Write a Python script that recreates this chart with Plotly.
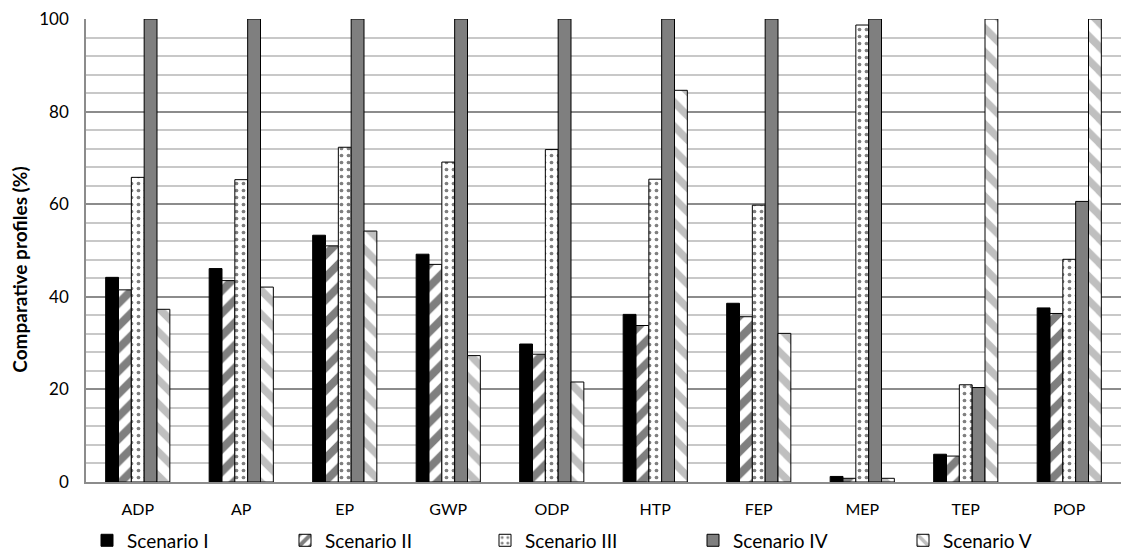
import plotly.graph_objects as go

categories = ["ADP", "AP", "EP", "GWP", "ODP", "HTP", "FEP", "MEP", "TEP", "POP"]
scenario_1 = [44.2, 46.1, 53.3, 49.2, 29.8, 36.2, 38.6, 1.2, 6.0, 37.6]
scenario_2 = [41.5, 43.5, 51.0, 47.0, 27.6, 33.8, 35.7, 0.8, 5.6, 36.4]
scenario_3 = [65.8, 65.3, 72.3, 69.1, 71.8, 65.4, 59.8, 98.7, 21.0, 48.1]
scenario_4 = [100, 100, 100, 100, 100, 100, 100, 100, 20.4, 60.6]
scenario_5 = [37.3, 42.1, 54.2, 27.3, 21.6, 84.6, 32.1, 0.8, 100, 100]
series_names = ["Scenario I", "Scenario II", "Scenario III", "Scenario IV", "Scenario V"]
y_ticks = [0, 20, 40, 60, 80, 100]

W, H = 1121, 554
L, R, T, B = 86, 0, 19, 71.5
pw = W - L - R
ph = H - T - B

styles = [
    dict(color="black"),
    dict(color="white", pattern=dict(shape="/", fgcolor="black", bgcolor="white", size=16, solidity=0.5, fillmode="overlay")),
    dict(color="white", pattern=dict(shape=".", fgcolor="black", bgcolor="white", size=7, solidity=0.22, fillmode="overlay")),
    dict(color="#7f7f7f"),
    dict(color="white", pattern=dict(shape="\\", fgcolor="#808080", bgcolor="white", size=17, solidity=0.45, fillmode="overlay")),
]

series = [scenario_1, scenario_2, scenario_3, scenario_4, scenario_5]
legend_centers_px = [109, 307, 507, 715, 925]
legend_keys = ["legend", "legend2", "legend3", "legend4", "legend5"]
D = 22  # offset from legend left edge to swatch centre

fig = go.Figure()
for name, vals, st, key in zip(series_names, series, styles, legend_keys):
    fig.add_trace(go.Bar(
        x=categories, y=vals, name=name, legend=key,
        marker=dict(**st, line=dict(color="black", width=1)),
    ))

layout_legends = {}
for key, c in zip(legend_keys, legend_centers_px):
    layout_legends[key] = dict(
        x=(c - D - L) / pw, xanchor="left", xref="paper",
        y=(H - B - 541) / ph, yanchor="middle", yref="paper",
        orientation="h", bgcolor="rgba(0,0,0,0)",
        font=dict(family="Lato", size=19, color="black"),
        itemclick=False,
    )

fig.update_layout(
    width=W, height=H,
    margin=dict(l=L, r=R, t=T, b=B, autoexpand=False),
    paper_bgcolor="white", plot_bgcolor="white",
    barmode="group", bargap=0.38, bargroupgap=0,
    font=dict(family="Lato", color="black"),
    showlegend=True,
    **layout_legends,
    xaxis=dict(
        showline=True, linecolor="#8c8c8c", linewidth=1.5,
        ticks="", tickfont=dict(family="Lato", size=16, color="black"),
        showgrid=False, zeroline=False, ticklabelstandoff=12,
    ),
    yaxis=dict(
        range=[0, 100], tickvals=y_ticks, ticks="",
        tickfont=dict(family="Lato", size=17, color="black"),
        showline=True, linecolor="#8c8c8c", linewidth=1.5,
        showgrid=True, gridcolor="#8c8c8c", gridwidth=1.5,
        zeroline=False, ticklabelstandoff=12,
        minor=dict(dtick=4, showgrid=True, gridcolor="#c8c8c8", gridwidth=1.5),
    ),
    annotations=[dict(
        text="<b>Comparative profiles (%)</b>", textangle=-90,
        x=(20 - L) / pw, xref="paper", y=(H - B - 270) / ph, yref="paper",
        xanchor="center", yanchor="middle", showarrow=False,
        font=dict(family="Lato", size=19, color="black"),
    )],
)

fig.write_html(
    "out.html",
    config={"displayModeBar": False},
    post_script="document.body.style.margin='0px';document.body.style.overflow='hidden';",
)
